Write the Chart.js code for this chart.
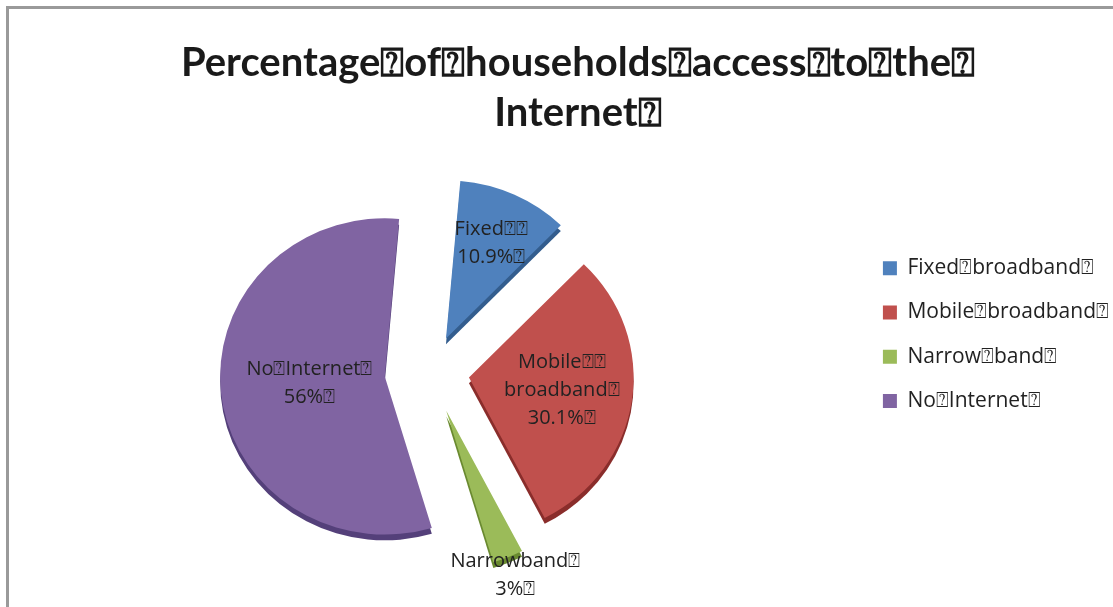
<!DOCTYPE html>
<html><head><meta charset="utf-8">
<script src="https://cdn.jsdelivr.net/npm/chart.js@4.4.1/dist/chart.umd.min.js"></script>
<style>
html,body{margin:0;padding:0;background:#fff;overflow:hidden;}
#wrap{position:relative;width:1113px;height:607px;overflow:hidden;}
#frame{position:absolute;left:6px;top:6px;width:2000px;height:2000px;border-top:3px solid #9a9a9a;border-left:3px solid #9a9a9a;box-sizing:border-box;pointer-events:none;}
canvas{position:absolute;left:0;top:0;}
</style></head><body>
<div id="wrap"><div id="frame"></div><canvas id="c" width="1113" height="607"></canvas></div>
<script>
const Q = '\u2370';
const categories = ['Fixed' + Q + 'broadband' + Q, 'Mobile' + Q + 'broadband' + Q, 'Narrow' + Q + 'band' + Q, 'No' + Q + 'Internet' + Q];
const values = [10.9, 30.1, 3, 56];
const valueLabels = ['10.9%' + Q, '30.1%' + Q, '3%' + Q, '56%' + Q];
const sliceNames = [['Fixed' + Q + Q], ['Mobile' + Q + Q, 'broadband' + Q], ['Narrowband' + Q], ['No' + Q + 'Internet' + Q]];
const titleLines = ['Percentage' + Q + 'of' + Q + 'households' + Q + 'access' + Q + 'to' + Q + 'the' + Q, 'Internet' + Q];
const colors = ['#4F81BD', '#C0504D', '#9BBB59', '#8064A2'];
const sideColors = ['#335d8e', '#8a2d2b', '#6a8a30', '#54407a'];

// styling / layout
const explodePx = [38, 39, 43, 45];
const labelRadius = [0.66, 0.57, 1.12, 0.46];
const PIE = { sx: 1.01, sy: 0.97, cx: 430, cy: 372, depth: 6, radius: 163, rotation: 5 };

// Chart.js arcs translate by offset/4
const offsets = explodePx.map(p => p * 4);

function arcGeom(a) {
  const off = (a.options.offset || 0) / 4;
  const fix = 1 - Math.sin(Math.min(Math.PI, a.circumference || 0));
  const s = a._baseS !== undefined ? a._baseS : a.startAngle;
  const e = a._baseE !== undefined ? a._baseE : a.endAngle;
  const mid = (s + e) / 2;
  return { x: Math.cos(mid) * off, y: Math.sin(mid) * off, mid, grow: off * fix };
}
function mapPoint(a, x, y) {
  return { x: PIE.cx + (x - a.x) * PIE.sx, y: PIE.cy + (y - a.y) * PIE.sy };
}

const pie3d = {
  id: 'pie3d',
  beforeDatasetsDraw(chart) {
    const ctx = chart.ctx;
    const arcs = chart.getDatasetMeta(0).data;
    // undo Chart.js' radius growth / angle trimming of exploded slices,
    // so every slice is drawn at the same radius and with its true angle
    arcs.forEach(a => {
      if (a._baseR === undefined) {
        a._baseR = a.outerRadius; a._baseS = a.startAngle; a._baseE = a.endAngle;
      }
      const g = arcGeom(a);
      const shrink = (g.grow / Math.PI) / a._baseR / 2;
      a.outerRadius = a._baseR - g.grow;
      a.startAngle = a._baseS - shrink;
      a.endAngle = a._baseE + shrink;
    });
    const a0 = arcs[0];
    ctx.save();
    ctx.translate(PIE.cx, PIE.cy);
    ctx.scale(PIE.sx, PIE.sy);
    ctx.translate(-a0.x, -a0.y);
    arcs.forEach((a, i) => {
      const g = arcGeom(a);
      const ox = a.x + g.x, oy = a.y + g.y + PIE.depth;
      ctx.beginPath();
      ctx.moveTo(ox, oy);
      ctx.arc(ox, oy, a._baseR, a._baseS, a._baseE);
      ctx.closePath();
      ctx.fillStyle = sideColors[i];
      ctx.fill();
    });
  },
  afterDatasetsDraw(chart) {
    const ctx = chart.ctx;
    ctx.restore();
    const arcs = chart.getDatasetMeta(0).data;
    ctx.save();
    ctx.font = '20px "Open Sans"';
    ctx.fillStyle = '#222';
    ctx.textAlign = 'center';
    ctx.textBaseline = 'middle';
    arcs.forEach((a, i) => {
      const g = arcGeom(a);
      const r = a._baseR * labelRadius[i];
      const p = mapPoint(a, a.x + g.x + Math.cos(g.mid) * r, a.y + g.y + Math.sin(g.mid) * r);
      const lines = sliceNames[i].concat([valueLabels[i]]);
      const lh = 28;
      lines.forEach((t, k) => {
        ctx.fillText(t, p.x, p.y + (k - (lines.length - 1) / 2) * lh);
      });
    });
    ctx.restore();
  }
};

new Chart(document.getElementById('c'), {
  type: 'pie',
  data: {
    labels: categories,
    datasets: [{
      data: values,
      backgroundColor: colors,
      borderWidth: 0,
      offset: offsets
    }]
  },
  options: {
    responsive: false,
    animation: false,
    radius: PIE.radius,
    rotation: PIE.rotation,
    layout: { padding: { left: 37, right: -6, top: 0, bottom: 0 } },
    plugins: {
      tooltip: { enabled: false },
      title: {
        display: true,
        text: titleLines,
        color: '#1a1a1a',
        font: { family: 'Lato', size: 40, weight: 'bold', lineHeight: 1.25 },
        padding: { top: 38, bottom: 10 }
      },
      legend: {
        position: 'right',
        align: 'start',
        title: { display: true, text: '', padding: { top: 220, bottom: 0 } },
        labels: {
          boxWidth: 14,
          boxHeight: 14,
          padding: 23.3,
          color: '#222',
          font: { family: 'Open Sans', size: 21 }
        }
      }
    }
  },
  plugins: [pie3d]
});
</script>
</body></html>
